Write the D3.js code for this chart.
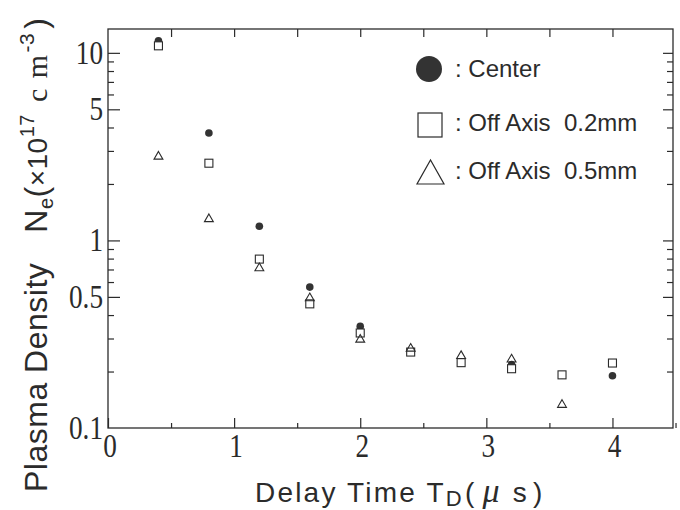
<!DOCTYPE html>
<html>
<head>
<meta charset="utf-8">
<script src="https://cdn.jsdelivr.net/npm/d3@7"></script>
<style>
  body { margin: 0; background: #fff; }
  svg { display: block; }
</style>
</head>
<body>
<script>
// delay time (us) and plasma density (x1e17 cm^-3)
const times = [0.4, 0.8, 1.2, 1.6, 2.0, 2.4, 2.8, 3.2, 3.6, 4.0]
const center = [11.6, 3.74, 1.19, 0.564, 0.348, 0.254, 0.223, 0.218, 0.192, 0.19]
const offAxis02 = [10.9, 2.58, 0.795, 0.459, 0.321, 0.254, 0.223, 0.207, 0.192, 0.222]
const offAxis05 = [2.8, 1.3, 0.711, 0.492, 0.296, 0.265, 0.242, 0.232, 0.133, null]

const xMajor = [0, 1, 2, 3, 4]
const xMinor = [0.5, 1.5, 2.5, 3.5, 4.5]
const xTop = [0.5, 1, 1.5, 2, 2.5, 3, 3.5, 4]
const yLabels = [0.1, 0.5, 1, 5, 10]
const yMajor = [0.5, 1, 5, 10]
const yMinor = [0.2, 0.3, 0.4, 0.6, 0.7, 0.8, 0.9, 2, 3, 4, 6, 7, 8, 9]

const width = 680
const height = 510
const plotL = 108, plotR = 673, plotT = 29, plotB = 428
const ink = '#2b2b2b'

const x = d3.scaleLinear().domain([0, 4.48]).range([plotL, plotR])
const y = d3.scaleLog().domain([0.1, 13.4]).range([plotB, plotT])

const svg = d3.select('body')
  .append('svg')
  .attr('width', width)
  .attr('height', height)

// ticks, all pointing into the plot
function ticks(axis, vals, len, tx, ty) {
  svg.append('g')
    .attr('transform', 'translate(' + tx + ',' + ty + ')')
    .call(axis.tickValues(vals).tickSizeInner(-len).tickSizeOuter(0).tickFormat(''))
    .call(g => g.select('.domain').remove())
    .call(g => g.selectAll('line').attr('stroke', ink).attr('stroke-width', 1.2))
}
ticks(d3.axisBottom(x), xMajor, 10, 0, plotB)
ticks(d3.axisBottom(x), xMinor, 5, 0, plotB)
ticks(d3.axisTop(x), xTop, 8, 0, plotT)
ticks(d3.axisLeft(y), yMajor, 12, plotL, 0)
ticks(d3.axisLeft(y), yMinor, 6, plotL, 0)
ticks(d3.axisRight(y), yMajor, 10, plotR, 0)
ticks(d3.axisRight(y), yMinor, 6, plotR, 0)

svg.append('rect')
  .attr('x', plotL)
  .attr('y', plotT)
  .attr('width', plotR - plotL)
  .attr('height', plotB - plotT)
  .attr('fill', 'none')
  .attr('stroke', ink)
  .attr('stroke-width', 1.3)

// tick labels, narrow serif
svg.selectAll('.ylab')
  .data(yLabels)
  .enter()
  .append('text')
  .attr('transform', d => 'translate(' + (plotL - 5) + ',' + (y(d) + 11) + ') scale(0.8,1)')
  .attr('text-anchor', 'end')
  .attr('font-family', 'Liberation Serif')
  .attr('font-size', '34px')
  .attr('fill', ink)
  .text(d => d)

svg.selectAll('.xlab')
  .data(xMajor)
  .enter()
  .append('text')
  .attr('transform', d => 'translate(' + (x(d) + 2) + ',' + (plotB + 29) + ') scale(0.8,1)')
  .attr('text-anchor', 'middle')
  .attr('font-family', 'Liberation Serif')
  .attr('font-size', '34px')
  .attr('fill', ink)
  .text(d => d)

// points
const tri = d3.symbol().type(d3.symbolTriangle).size(34)

svg.selectAll('.center')
  .data(times.map((t, i) => [t, center[i]]))
  .enter()
  .append('circle')
  .attr('cx', d => x(d[0]))
  .attr('cy', d => y(d[1]))
  .attr('r', 3.8)
  .attr('fill', '#333')

svg.selectAll('.off02')
  .data(times.map((t, i) => [t, offAxis02[i]]))
  .enter()
  .append('rect')
  .attr('x', d => x(d[0]) - 4)
  .attr('y', d => y(d[1]) - 4)
  .attr('width', 8)
  .attr('height', 8)
  .attr('fill', '#fff')
  .attr('stroke', ink)
  .attr('stroke-width', 1.1)

svg.selectAll('.off05')
  .data(times.map((t, i) => [t, offAxis05[i]]).filter(d => d[1] != null))
  .enter()
  .append('path')
  .attr('d', tri)
  .attr('transform', d => 'translate(' + x(d[0]) + ',' + y(d[1]) + ')')
  .attr('fill', 'none')
  .attr('stroke', ink)
  .attr('stroke-width', 1.1)

// legend
svg.append('circle')
  .attr('cx', 429).attr('cy', 69).attr('r', 13)
  .attr('fill', '#333')
svg.append('rect')
  .attr('x', 418).attr('y', 113).attr('width', 24).attr('height', 24)
  .attr('fill', 'none').attr('stroke', ink).attr('stroke-width', 1.2)
svg.append('path')
  .attr('d', 'M417,184 L444,184 L430.5,160 Z')
  .attr('fill', 'none').attr('stroke', ink).attr('stroke-width', 1.2)

const legendText = [': Center', ': Off Axis  0.2mm', ': Off Axis  0.5mm']
const legendY = [77, 131, 179]
svg.selectAll('.leg')
  .data(legendText)
  .enter()
  .append('text')
  .attr('x', 455)
  .attr('y', (d, i) => legendY[i])
  .attr('font-family', 'Liberation Sans')
  .attr('font-size', '24px')
  .attr('fill', ink)
  .style('white-space', 'pre')
  .text(d => d)

// axis titles
const xt = svg.append('text')
  .attr('x', 255)
  .attr('y', 502)
  .attr('font-family', 'Liberation Sans')
  .attr('font-size', '28px')
  .attr('letter-spacing', '2.2px')
  .attr('fill', ink)
  .style('white-space', 'pre')
xt.append('tspan').text('Delay Time T')
xt.append('tspan').attr('font-size', '22px').attr('dy', 4).text('D')
xt.append('tspan').attr('dy', -4).attr('dx', 1).text('(')
xt.append('tspan').attr('dx', 6).attr('font-family', 'Liberation Serif').attr('font-style', 'italic').attr('font-size', '34px').text('\u03bc')
xt.append('tspan').attr('dx', 11).text('s')
xt.append('tspan').attr('dx', 4).text(')')

const yt = svg.append('text')
  .attr('transform', 'translate(47,492) rotate(-90)')
  .attr('font-family', 'Liberation Sans')
  .attr('font-size', '32px')
  .attr('letter-spacing', '0.5px')
  .attr('fill', ink)
  .style('white-space', 'pre')
yt.append('tspan').text('Plasma Density')
yt.append('tspan').attr('dx', 30).text('N')
yt.append('tspan').attr('font-size', '20px').attr('dy', 6).text('e')
yt.append('tspan').attr('dy', -6).text('(')
yt.append('tspan').attr('font-size', '28px').text('\u00d710')
yt.append('tspan').attr('font-size', '20px').attr('dy', -13).text('17')
yt.append('tspan').attr('dy', 13).attr('dx', 12).attr('font-family', 'Liberation Serif').attr('font-size', '30px').text('c')
yt.append('tspan').attr('dx', 10).attr('font-family', 'Liberation Serif').attr('font-size', '30px').text('m')
yt.append('tspan').attr('font-size', '21px').attr('dy', -13).attr('dx', 2).text('-3')
yt.append('tspan').attr('dy', 13).attr('dx', 4).text(')')
</script>
</body>
</html>
